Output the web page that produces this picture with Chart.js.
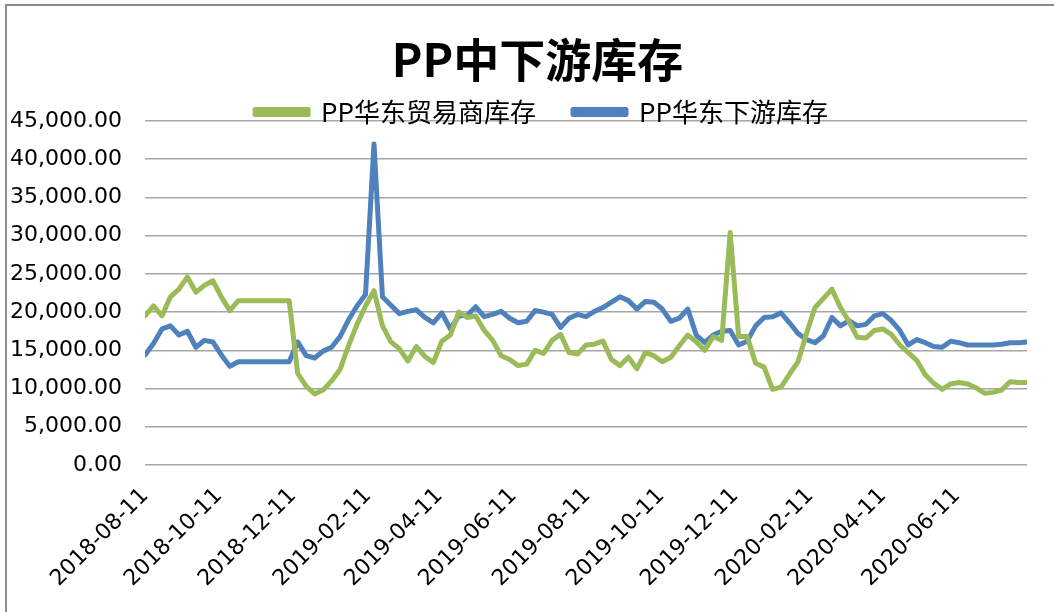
<!DOCTYPE html>
<html>
<head>
<meta charset="utf-8">
<title>PP中下游库存</title>
<script src="https://cdn.jsdelivr.net/npm/chart.js@4.4.1/dist/chart.umd.min.js"></script>
<style>
  html, body { margin: 0; padding: 0; background: #fff; overflow: hidden; }
  #wrap { position: relative; width: 1054px; height: 612px; }
  #frame { position: absolute; left: 5px; top: 4px; width: 1200px; height: 800px; border: 2px solid #8c8c8c; pointer-events: none; }
  canvas { position: absolute; left: 0; top: 0; }
</style>
</head>
<body>
<div id="wrap">
  <canvas id="chart" width="1054" height="612"></canvas>
  <div id="frame"></div>
</div>
<script>
// weekly observations
var dates = [
  '2018-08-11','2018-08-18','2018-08-25','2018-09-01','2018-09-08','2018-09-15','2018-09-22','2018-09-29',
  '2018-10-06','2018-10-13','2018-10-20','2018-10-27','2018-11-03','2018-11-10','2018-11-17','2018-11-24',
  '2018-12-01','2018-12-08','2018-12-15','2018-12-22','2018-12-29',
  '2019-01-05','2019-01-12','2019-01-19','2019-01-26','2019-02-02','2019-02-09','2019-02-16','2019-02-23',
  '2019-03-02','2019-03-09','2019-03-16','2019-03-23','2019-03-30','2019-04-06','2019-04-13','2019-04-20',
  '2019-04-27','2019-05-04','2019-05-11','2019-05-18','2019-05-25','2019-06-01','2019-06-08','2019-06-15',
  '2019-06-22','2019-06-29','2019-07-06','2019-07-13','2019-07-20','2019-07-27','2019-08-03','2019-08-10',
  '2019-08-17','2019-08-24','2019-08-31','2019-09-07','2019-09-14','2019-09-21','2019-09-28','2019-10-05',
  '2019-10-12','2019-10-19','2019-10-26','2019-11-02','2019-11-09','2019-11-16','2019-11-23','2019-11-30',
  '2019-12-07','2019-12-14','2019-12-21','2019-12-28',
  '2020-01-04','2020-01-11','2020-01-18','2020-01-25','2020-02-01','2020-02-08','2020-02-15','2020-02-22',
  '2020-02-29','2020-03-07','2020-03-14','2020-03-21','2020-03-28','2020-04-04','2020-04-11','2020-04-18',
  '2020-04-25','2020-05-02','2020-05-09','2020-05-16','2020-05-23','2020-05-30','2020-06-06','2020-06-13',
  '2020-06-20','2020-06-27','2020-07-04','2020-07-11','2020-07-18','2020-07-25','2020-08-01','2020-08-08'
];

// PP华东贸易商库存
var traderStock = [
  19500,20800,19500,22000,23000,24600,22600,23500,24100,22000,20200,21500,21500,21500,21500,21500,
  21500,21500,12000,10300,9300,
  9800,11000,12500,15600,18400,20800,22800,18200,16100,15200,13600,15500,14200,13400,16200,17000,
  20000,19300,19500,17600,16300,14300,13800,13000,13200,15000,14600,16300,17100,14700,14500,15700,
  15800,16200,13800,13000,14100,12600,14700,14300,13500,14100,15600,17000,16100,15000,16800,16300,
  30400,16800,16800,13300,
  12800,9900,10200,11900,13500,17200,20600,21800,23000,20600,18800,16700,16600,17600,17800,17100,
  15700,14700,13700,11800,10700,9900,10600,10800,10600,10100,9400,9500,9800,10900,10800,10800
];

// PP华东下游库存
var downstreamStock = [
  14400,15900,17800,18200,17000,17500,15400,16300,16100,14400,12900,13500,13500,13500,13500,13500,
  13500,13500,16100,14300,14000,
  14900,15400,16800,19000,20800,22300,42000,22000,20900,19800,20100,20300,19300,18600,19900,17800,
  19500,19600,20700,19400,19700,20100,19200,18600,18800,20200,20000,19700,18000,19200,19700,19400,
  20100,20600,21300,22000,21500,20400,21400,21300,20400,18800,19200,20400,17000,16000,17000,17500,
  17600,15700,16200,18200,
  19300,19400,19900,18600,17200,16400,16000,16900,19300,18200,18900,18200,18400,19500,19800,18900,
  17600,15700,16400,16000,15500,15400,16200,16000,15700,15700,15700,15700,15800,16000,16000,16100
];

var tickDates = [
  '2018-08-11','2018-10-11','2018-12-11','2019-02-11','2019-04-11','2019-06-11',
  '2019-08-11','2019-10-11','2019-12-11','2020-02-11','2020-04-11','2020-06-11'
];

var seriesNames = ['PP华东贸易商库存', 'PP华东下游库存'];

function dayOffset(d){
    return (Date.parse(d) - Date.parse(dates[0])) / 86400000;
}

function toPoints(values){
    return values.map(function(v, i){ return {x: dayOffset(dates[i]), y: v}; });
}

function money(v){
    return Number(v).toLocaleString('en-US', {minimumFractionDigits: 2, maximumFractionDigits: 2});
}

// in the original the title and legend sit a bit right of the canvas centre,
// and the legend hugs the top gridline
var headerNudge = {
    id: 'headerNudge',
    afterLayout: function(chart){
        var t = chart.titleBlock, lg = chart.legend;
        t.left += 24; t.right += 24;
        lg.left += 28; lg.right += 28;
        lg.top += 14; lg.bottom += 14;
    }
};

var axisFont = {family: '"DejaVu Sans", sans-serif', size: 22};

new Chart(document.getElementById('chart'), {
    type: 'line',
    data: {
        datasets: [{
            label: seriesNames[0],
            data: toPoints(traderStock),
            borderColor: '#9bbb59',
            backgroundColor: '#9bbb59',
            borderWidth: 5,
            pointRadius: 0,
            tension: 0,
            borderJoinStyle: 'round',
            borderCapStyle: 'round'
        }, {
            label: seriesNames[1],
            data: toPoints(downstreamStock),
            borderColor: '#4f81bd',
            backgroundColor: '#4f81bd',
            borderWidth: 5,
            pointRadius: 0,
            tension: 0,
            borderJoinStyle: 'round',
            borderCapStyle: 'round'
        }]
    },
    options: {
        responsive: false,
        animation: false,
        devicePixelRatio: 1,
        layout: {padding: {left: 0, right: 27, top: 0, bottom: 0}},
        plugins: {
            title: {
                display: true,
                text: 'PP中下游库存',
                color: '#000',
                font: {family: '"Noto Sans CJK SC", sans-serif', size: 46, weight: 'bold', lineHeight: 1},
                padding: {top: 37, bottom: -35}
            },
            legend: {
                display: true,
                labels: {
                    color: '#000',
                    font: {family: '"Noto Sans CJK SC", sans-serif', size: 26},
                    boxWidth: 53,
                    boxHeight: 5,
                    padding: 37
                }
            },
            tooltip: {enabled: false}
        },
        scales: {
            x: {
                type: 'linear',
                min: 0,
                max: dayOffset(dates[dates.length - 1]),
                afterBuildTicks: function(scale){
                    scale.ticks = tickDates.map(function(d){ return {value: dayOffset(d)}; });
                },
                afterFit: function(scale){ scale.height = 147; },
                grid: {display: false},
                border: {display: false},
                ticks: {
                    autoSkip: false,
                    minRotation: 45,
                    maxRotation: 45,
                    padding: 10,
                    color: '#000',
                    font: axisFont,
                    callback: function(value, index){ return tickDates[index]; }
                }
            },
            y: {
                min: 0,
                max: 45000,
                afterFit: function(scale){ scale.width = 145; },
                grid: {color: '#a6a6a6', lineWidth: 1.5, drawTicks: false},
                border: {display: false},
                ticks: {
                    stepSize: 5000,
                    padding: 23,
                    color: '#000',
                    font: axisFont,
                    callback: function(value){ return money(value); }
                }
            }
        }
    },
    plugins: [headerNudge]
});
</script>
</body>
</html>
